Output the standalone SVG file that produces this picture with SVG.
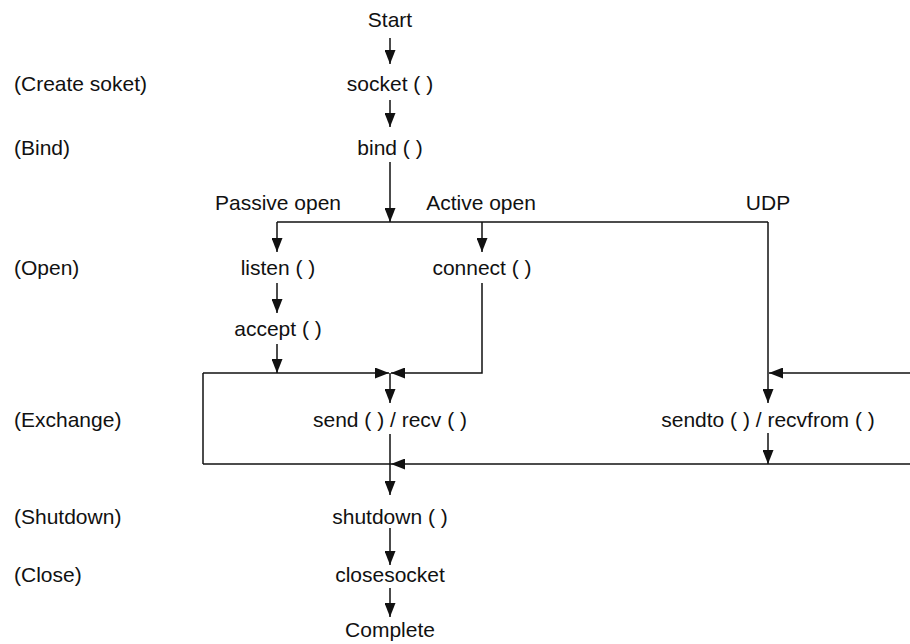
<svg xmlns="http://www.w3.org/2000/svg" width="910" height="644" viewBox="0 0 910 644">
  <defs>
    <marker id="ah" markerUnits="userSpaceOnUse" markerWidth="14" markerHeight="11" refX="14" refY="5.5" orient="auto">
      <path d="M0,0 L14,5.5 L0,11 z" fill="#111"/>
    </marker>
    <style>
      text { font-family: "Liberation Sans", Arial, sans-serif; font-size: 21px; fill: #111; }
      .c { text-anchor: middle; }
      .conn line, .conn polyline { stroke: #111; stroke-width: 1.5; fill: none; }
    </style>
  </defs>
  <rect width="910" height="644" fill="#fff"/>

  <g id="labels">
    <text x="14" y="91">(Create soket)</text>
    <text x="14" y="155">(Bind)</text>
    <text x="14" y="275">(Open)</text>
    <text x="14" y="427">(Exchange)</text>
    <text x="14" y="524">(Shutdown)</text>
    <text x="14" y="582">(Close)</text>
  </g>

  <g id="start"><text class="c" x="390" y="27">Start</text></g>
  <g id="socket"><text class="c" x="390" y="91">socket ( )</text></g>
  <g id="bind"><text class="c" x="390" y="155">bind ( )</text></g>
  <g id="passive"><text class="c" x="278" y="210">Passive open</text></g>
  <g id="active"><text class="c" x="481" y="210">Active open</text></g>
  <g id="udp"><text class="c" x="768" y="210">UDP</text></g>
  <g id="listen"><text class="c" x="278" y="275">listen ( )</text></g>
  <g id="connect"><text class="c" x="482" y="275">connect ( )</text></g>
  <g id="accept"><text class="c" x="278" y="336">accept ( )</text></g>
  <g id="sendrecv"><text class="c" x="390" y="427">send ( ) / recv ( )</text></g>
  <g id="sendtorecvfrom"><text class="c" x="768" y="427">sendto ( ) / recvfrom ( )</text></g>
  <g id="shutdown"><text class="c" x="390" y="524">shutdown ( )</text></g>
  <g id="closesocket"><text class="c" x="390" y="582">closesocket</text></g>
  <g id="complete"><text class="c" x="390" y="637">Complete</text></g>

  <g class="conn" id="connectors">
    <line x1="390" y1="38" x2="390" y2="64" marker-end="url(#ah)"/>
    <line x1="390" y1="100" x2="390" y2="127" marker-end="url(#ah)"/>
    <line x1="390" y1="162" x2="390" y2="222" marker-end="url(#ah)"/>
    <line x1="277" y1="222" x2="768" y2="222"/>
    <line x1="277" y1="222" x2="277" y2="252" marker-end="url(#ah)"/>
    <line x1="482" y1="222" x2="482" y2="252" marker-end="url(#ah)"/>
    <line x1="768" y1="222" x2="768" y2="403" marker-end="url(#ah)"/>
    <line x1="277" y1="283" x2="277" y2="313" marker-end="url(#ah)"/>
    <line x1="277" y1="344" x2="277" y2="373" marker-end="url(#ah)"/>
    <line x1="203" y1="373" x2="389" y2="373" marker-end="url(#ah)"/>
    <polyline points="482,283 482,373 391,373" marker-end="url(#ah)"/>
    <line x1="390" y1="373" x2="390" y2="403" marker-end="url(#ah)"/>
    <line x1="203" y1="373" x2="203" y2="464"/>
    <line x1="203" y1="464" x2="391" y2="464"/>
    <line x1="910" y1="464" x2="391" y2="464" marker-end="url(#ah)"/>
    <line x1="390" y1="434" x2="390" y2="495" marker-end="url(#ah)"/>
    <line x1="910" y1="373" x2="769" y2="373" marker-end="url(#ah)"/>
    <line x1="768" y1="433" x2="768" y2="464" marker-end="url(#ah)"/>
    <line x1="390" y1="528" x2="390" y2="565" marker-end="url(#ah)"/>
    <line x1="390" y1="588" x2="390" y2="617" marker-end="url(#ah)"/>
  </g>
</svg>
